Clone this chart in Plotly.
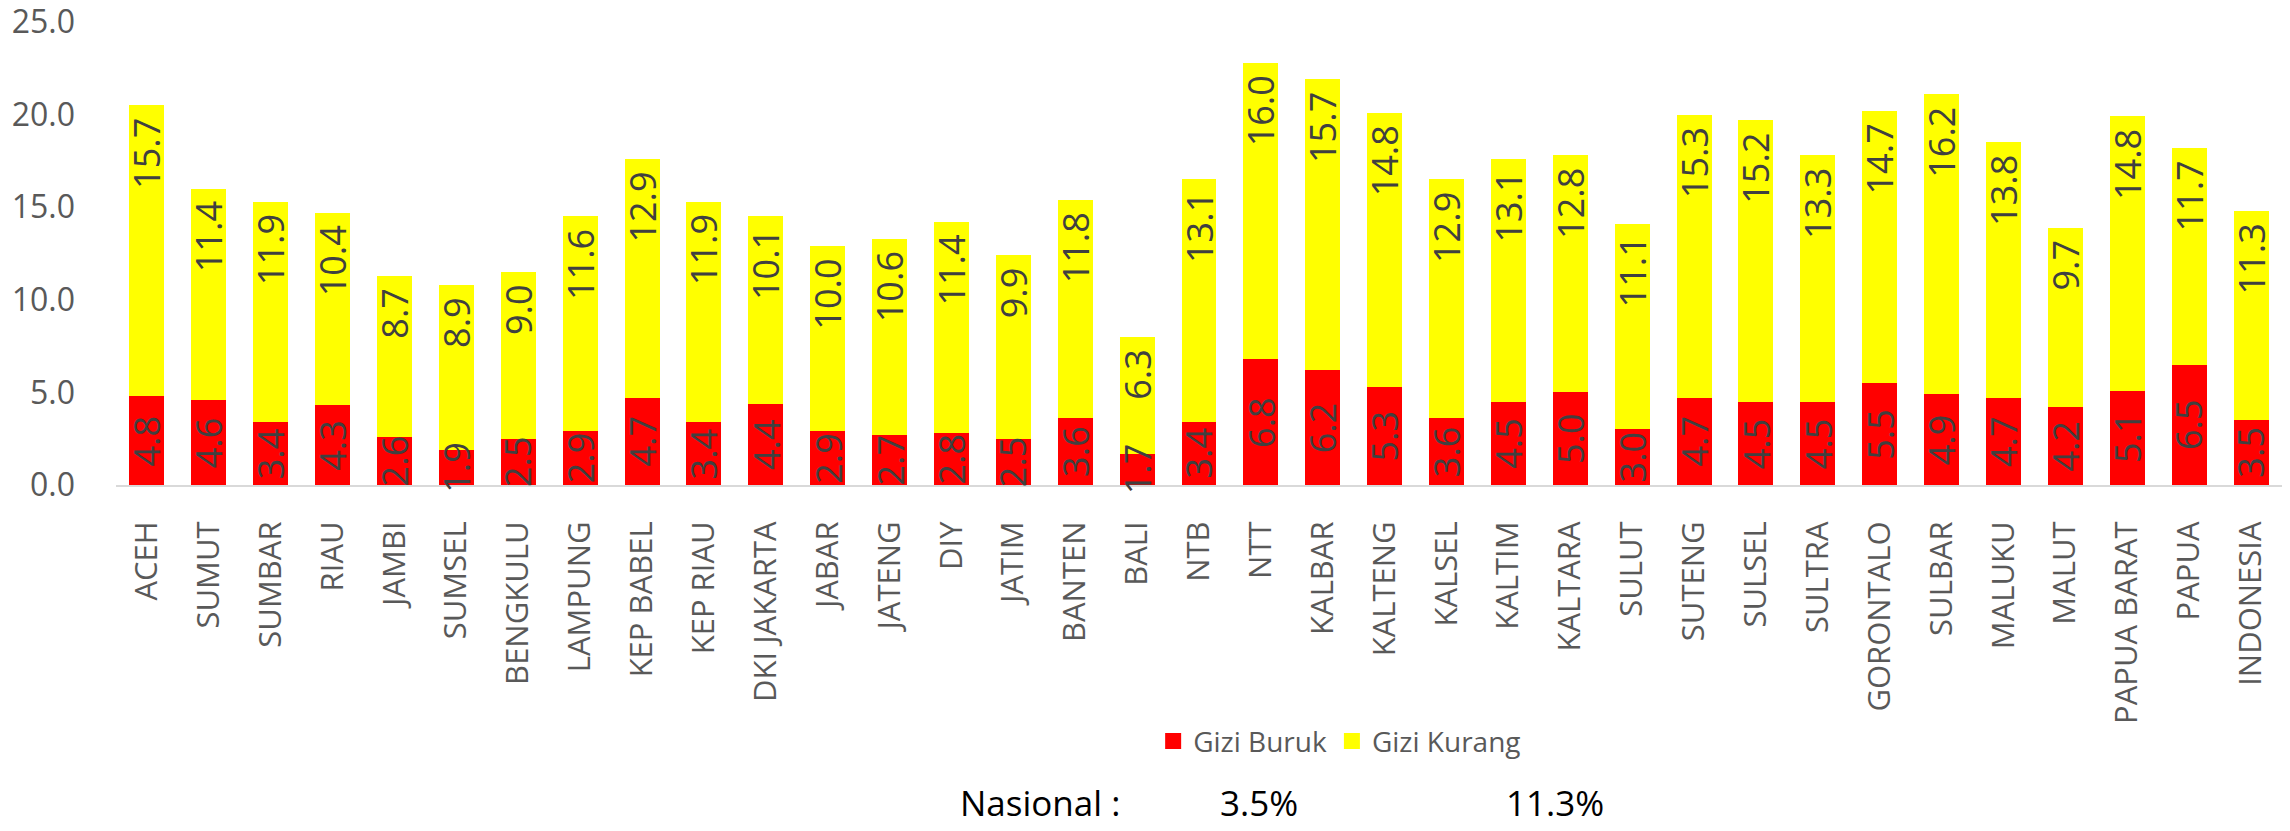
import plotly.graph_objects as go

provinces = ["ACEH", "SUMUT", "SUMBAR", "RIAU", "JAMBI", "SUMSEL", "BENGKULU", "LAMPUNG",
             "KEP BABEL", "KEP RIAU", "DKI JAKARTA", "JABAR", "JATENG", "DIY", "JATIM", "BANTEN",
             "BALI", "NTB", "NTT", "KALBAR", "KALTENG", "KALSEL", "KALTIM", "KALTARA", "SULUT",
             "SUTENG", "SULSEL", "SULTRA", "GORONTALO", "SULBAR", "MALUKU", "MALUT",
             "PAPUA BARAT", "PAPUA", "INDONESIA"]

gizi_buruk = [4.8, 4.6, 3.4, 4.3, 2.6, 1.9, 2.5, 2.9, 4.7, 3.4, 4.4, 2.9, 2.7, 2.8, 2.5, 3.6,
              1.7, 3.4, 6.8, 6.2, 5.3, 3.6, 4.5, 5.0, 3.0, 4.7, 4.5, 4.5, 5.5, 4.9, 4.7, 4.2,
              5.1, 6.5, 3.5]

gizi_kurang = [15.7, 11.4, 11.9, 10.4, 8.7, 8.9, 9.0, 11.6, 12.9, 11.9, 10.1, 10.0, 10.6, 11.4,
               9.9, 11.8, 6.3, 13.1, 16.0, 15.7, 14.8, 12.9, 13.1, 12.8, 11.1, 15.3, 15.2, 13.3,
               14.7, 16.2, 13.8, 9.7, 14.8, 11.7, 11.3]

y_ticks = [0, 5, 10, 15, 20, 25]
nasional_label = "Nasional :"
nasional_buruk = "3.5%"
nasional_kurang = "11.3%"

FONT = "Open Sans"
GRAY = "#595959"
LABEL = "#404040"
RED = "#FF0000"
YELLOW = "#FFFF00"

fig = go.Figure()
fig.add_trace(go.Bar(
    x=provinces, y=gizi_buruk, name="Gizi Buruk",
    marker=dict(color=RED, line=dict(width=0)),
    showlegend=False,
))
fig.add_trace(go.Bar(
    x=provinces, y=gizi_kurang, name="Gizi Kurang",
    marker=dict(color=YELLOW, line=dict(width=0)),
    text=[f"{v:.1f}\u00a0" for v in gizi_kurang], textposition="inside",
    insidetextanchor="end", textangle=-90, constraintext="none",
    textfont=dict(family=FONT, size=36, color=LABEL),
    showlegend=False,
))
# legend entries
fig.add_trace(go.Scatter(x=[None], y=[None], mode="markers", name="Gizi Buruk",
                         marker=dict(symbol="square", size=16, color=RED)))
fig.add_trace(go.Scatter(x=[None], y=[None], mode="markers", name="Gizi Kurang",
                         marker=dict(symbol="square", size=16, color=YELLOW)))

# Gizi Buruk value labels, centred on the red segments and drawn above everything
label_annotations = [
    dict(x=p, y=v / 2, xref="x", yref="y", text=f"{v:.1f}", textangle=-90,
         showarrow=False, xanchor="center", yanchor="middle",
         font=dict(family=FONT, size=36, color=LABEL))
    for p, v in zip(provinces, gizi_buruk)
]

nasional_annotations = [
    dict(text=t, x=xp, y=-0.686, xref="paper", yref="paper",
         xanchor="left", yanchor="middle", showarrow=False,
         font=dict(family=FONT, size=35, color="black"))
    for t, xp in [(nasional_label, 0.3888), (nasional_buruk, 0.5088),
                  (nasional_kurang, 0.6408)]
]

fig.update_layout(
    width=2290, height=831,
    barmode="stack", bargap=0.435,
    plot_bgcolor="white", paper_bgcolor="white",
    margin=dict(l=116, r=8, t=22, b=346),
    font=dict(family=FONT, color=GRAY, size=31),
    legend=dict(orientation="h", xref="container", yref="container",
                x=0.585, y=0.108, xanchor="center", yanchor="middle",
                traceorder="normal",
                font=dict(family=FONT, size=28, color=GRAY), itemwidth=30,
                bgcolor="rgba(0,0,0,0)"),
    xaxis=dict(tickangle=-90, showline=True, linecolor="#D9D9D9", linewidth=2,
               ticks="", showgrid=False, automargin=False,
               tickfont=dict(family=FONT, size=31, color=GRAY),
               ticklabelstandoff=22),
    yaxis=dict(range=[0, 25], tickvals=y_ticks, tickformat=".1f", showgrid=False,
               zeroline=False, showline=False, ticks="", automargin=False,
               ticklabeloverflow="allow",
               tickfont=dict(family=FONT, size=32, color=GRAY), ticklabelstandoff=40),
    annotations=label_annotations + nasional_annotations,
)

fig.write_html("out.html", config={"displayModeBar": False},
               post_script="document.body.style.margin='0';")
